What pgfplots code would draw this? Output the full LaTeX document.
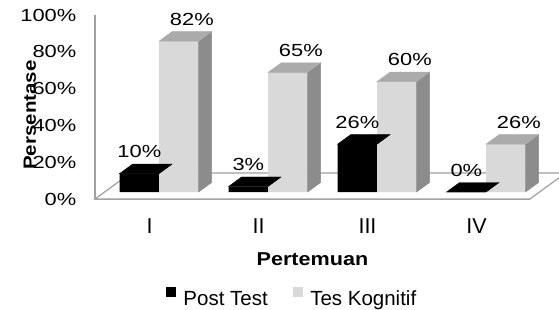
\documentclass[border=0pt]{standalone}
\usepackage{fontspec}
\setmainfont{Liberation Sans}
\newfontfamily\widefont{Liberation Sans}[FakeStretch=1.25]
\newfontfamily\wbfont{Liberation Sans}[FakeStretch=1.16]
\usepackage{pgfplots}
\pgfplotsset{compat=1.18}
\usepackage{pgfplotstable}
\definecolor{linegray}{HTML}{A0A0A0}
\definecolor{frontgray}{HTML}{D9D9D9}
\definecolor{topgray}{HTML}{ABABAB}
\definecolor{sidegray}{HTML}{8C8C8C}
\pgfdeclareplotmark{blank}{}
\pgfplotstableread{
x v
0 10
1 3
2 26
3 0
}\posttest
\pgfplotstableread{
x v
0 82
1 65
2 60
3 26
}\teskog
\begin{document}
\begin{tikzpicture}
\useasboundingbox (0,0) rectangle (559pt,309pt);
\begin{axis}[
  at={(95pt,110pt)}, anchor=south west,
  x=109pt, y=1.84pt,
  xmin=-0.5, xmax=3.49, ymin=0, ymax=100,
  clip=false,
  axis lines=left,
  axis line style={-, draw=linegray, line width=1.2pt},
  major tick length=0pt,
  xtick={0,1,2,3}, xticklabels={I,II,III,IV},
  ytick={0,20,40,60,80,100},
  yticklabels={0\%,20\%,40\%,60\%,80\%,100\%},
  xticklabel style={font=\fontsize{21.5}{24}\selectfont, anchor=base, yshift=-34pt, inner sep=0pt},
  yticklabel style={font=\widefont\fontsize{17.5}{20}\selectfont, anchor=east, xshift=-18.5pt, inner sep=0pt},
  xlabel={Pertemuan},
  xlabel style={at={(axis description cs:0.5,0)}, anchor=base, yshift=-66pt, font=\wbfont\bfseries\fontsize{18.6}{22}\selectfont, inner sep=0pt},
  legend style={at={(axis description cs:0.1632,-0.4766)}, anchor=north west, draw=none, fill=none, inner sep=0pt, outer sep=0pt,
    font=\fontsize{20.5}{24}\selectfont, legend columns=2, legend cell align=left,
    /tikz/every odd column/.append style={column sep=7.5pt},
    /tikz/every even column/.append style={column sep=25pt},
    nodes={inner sep=0pt}},
]
% floor
\draw[linegray, line width=1.2pt, fill=white] (axis cs:-0.5,0) -- (axis cs:3.49,0)
  -- ([shift={(35.6pt,26pt)}]axis cs:3.49,0) -- ([shift={(35.6pt,26pt)}]axis cs:-0.5,0) -- cycle;
% y axis title
\node[rotate=90, anchor=base, inner sep=0pt, font=\wbfont\bfseries\fontsize{17.7}{22}\selectfont]
  at ([xshift=-59pt,yshift=-8pt]axis description cs:0,0.5) {Persentase};
% Post Test top faces
\addplot[forget plot, scatter, only marks, mark=blank, xshift=9.6pt, yshift=7pt,
  scatter/@pre marker code/.code={\fill[black] (-39.5pt,0pt) -- (0pt,0pt) -- (13pt,9.5pt) -- (-26.5pt,9.5pt) -- cycle;},
  scatter/@post marker code/.code={}]
  table[x=x,y=v] {\posttest};
% Post Test front faces
\addplot[ybar, bar width=39.5pt, bar shift=-19.75pt, fill=black, draw=none, xshift=9.6pt, yshift=7pt,
  point meta=explicit symbolic,
  nodes near coords={\pgfplotspointmeta\%},
  nodes near coords style={anchor=base, xshift=-19.75pt, yshift=16pt, font=\widefont\fontsize{17.5}{20}\selectfont, inner sep=0pt, text=black},
  legend image code/.code={\fill[black] (0pt,-5pt) rectangle (10pt,5pt);}]
  table[x=x,y=v,meta=v] {\posttest};
\addlegendentry{Post Test}
% Tes Kognitif top and side faces
\addplot[forget plot, scatter, only marks, mark=blank, xshift=9.6pt, yshift=7pt,
  visualization depends on={\thisrow{v} \as \val},
  scatter/@pre marker code/.code={%
    \pgfmathsetmacro\barH{\val*1.84}%
    \fill[sidegray] (39.5pt,0pt) -- (52.5pt,9.5pt) -- (52.5pt,{9.5pt-\barH pt}) -- (39.5pt,{-\barH pt}) -- cycle;
    \fill[topgray] (0pt,0pt) -- (39.5pt,0pt) -- (52.5pt,9.5pt) -- (13pt,9.5pt) -- cycle;},
  scatter/@post marker code/.code={}]
  table[x=x,y=v] {\teskog};
% Tes Kognitif front faces
\addplot[ybar, bar width=39.5pt, bar shift=19.75pt, fill=frontgray, draw=none, xshift=9.6pt, yshift=7pt,
  point meta=explicit symbolic,
  nodes near coords={\pgfplotspointmeta\%},
  nodes near coords style={anchor=base, xshift=32.75pt, yshift=16pt, font=\widefont\fontsize{17.5}{20}\selectfont, inner sep=0pt, text=black},
  legend image code/.code={\fill[frontgray] (0pt,-5pt) rectangle (10pt,5pt);}]
  table[x=x,y=v,meta=v] {\teskog};
\addlegendentry{Tes Kognitif}
\end{axis}
\end{tikzpicture}
\end{document}
